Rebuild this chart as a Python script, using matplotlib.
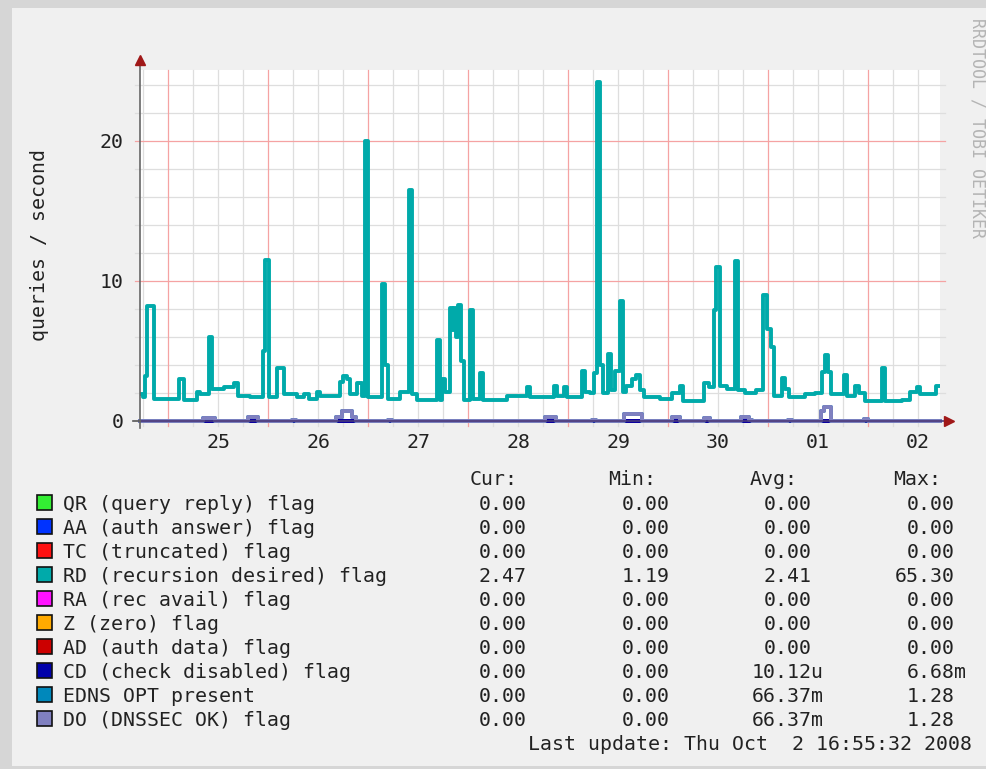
import matplotlib
matplotlib.use('Agg')
import matplotlib.pyplot as plt
from matplotlib.patches import Rectangle
import numpy as np

# --- data (time in days of month, Sep 24 .. Oct 2 continued as 31, 32) ---
rd_time = [24.22, 24.25, 24.27, 24.29, 24.36, 24.61, 24.66, 24.79, 24.82, 24.91,
           24.94, 25.06, 25.16, 25.20, 25.32, 25.45, 25.47, 25.51, 25.59, 25.66,
           25.79, 25.86, 25.91, 25.99, 26.02, 26.22, 26.25, 26.29, 26.32, 26.39,
           26.44, 26.47, 26.50, 26.64, 26.67, 26.70, 26.82, 26.91, 26.94, 26.99,
           27.19, 27.22, 27.24, 27.27, 27.32, 27.34, 27.36, 27.38, 27.40, 27.43,
           27.46, 27.52, 27.55, 27.62, 27.65, 27.89, 28.09, 28.12, 28.36, 28.39,
           28.46, 28.49, 28.64, 28.67, 28.72, 28.76, 28.79, 28.82, 28.85, 28.90,
           28.93, 28.97, 29.02, 29.05, 29.08, 29.14, 29.18, 29.22, 29.26, 29.42,
           29.54, 29.62, 29.65, 29.86, 29.91, 29.96, 29.98, 30.02, 30.09, 30.17,
           30.20, 30.27, 30.38, 30.45, 30.49, 30.53, 30.56, 30.64, 30.67, 30.71,
           30.87, 30.97, 31.04, 31.07, 31.10, 31.13, 31.26, 31.29, 31.37, 31.41,
           31.47, 31.64, 31.67, 31.84, 31.92, 31.99, 32.02, 32.18, 32.22]
rd_value = [1.9, 1.7, 3.2, 8.2, 1.6, 3.0, 1.5, 2.1, 1.9, 6.0,
            2.3, 2.4, 2.7, 1.8, 1.7, 5.0, 11.5, 1.7, 3.8, 1.9,
            1.7, 1.9, 1.6, 2.1, 1.8, 2.8, 3.2, 3.0, 1.9, 2.7,
            1.8, 20.0, 1.7, 9.8, 4.0, 1.6, 2.1, 16.5, 1.9, 1.5,
            5.8, 1.5, 3.0, 2.1, 8.1, 6.5, 8.1, 6.0, 8.3, 4.3,
            1.5, 7.9, 1.6, 3.4, 1.5, 1.8, 2.4, 1.7, 2.5, 1.8,
            2.4, 1.7, 3.6, 2.1, 2.0, 3.4, 24.2, 4.0, 2.0, 4.8,
            2.2, 3.6, 8.6, 2.1, 2.5, 3.0, 3.3, 2.2, 1.7, 1.6,
            2.0, 2.5, 1.4, 2.7, 2.4, 7.9, 11.0, 2.5, 2.3, 11.4,
            2.2, 2.0, 2.2, 9.0, 6.6, 5.3, 1.8, 3.1, 2.3, 1.7,
            1.9, 2.0, 3.5, 4.7, 3.5, 1.9, 3.3, 1.8, 2.5, 2.0,
            1.4, 3.8, 1.4, 1.5, 2.1, 2.4, 1.9, 2.5, 2.5]

do_time = [24.22, 24.85, 24.97, 25.30, 25.40, 25.74, 25.78, 26.18, 26.24, 26.34,
           26.38, 26.70, 26.74, 28.27, 28.38, 28.74, 28.78, 29.06, 29.24, 29.54,
           29.62, 29.86, 29.92, 30.23, 30.31, 30.34, 30.70, 30.74, 31.03, 31.06,
           31.11, 31.13, 31.46, 31.50, 32.22]
do_value = [0.0, 0.2, 0.0, 0.25, 0.0, 0.1, 0.0, 0.3, 0.7, 0.3,
            0.0, 0.1, 0.0, 0.25, 0.0, 0.1, 0.0, 0.5, 0.0, 0.25,
            0.0, 0.2, 0.0, 0.3, 0.1, 0.0, 0.1, 0.0, 0.7, 1.0,
            1.0, 0.0, 0.15, 0.0, 0.0]

zero_time = [24.22, 32.22]
zero_value = [0.0, 0.0]

day_ticks = [25, 26, 27, 28, 29, 30, 31, 32]
day_labels = ['25', '26', '27', '28', '29', '30', '01', '02']
y_ticks = [0, 10, 20]
y_labels = ['0', '10', '20']

flag_labels = ['QR (query reply) flag', 'AA (auth answer) flag', 'TC (truncated) flag',
               'RD (recursion desired) flag', 'RA (rec avail) flag', 'Z (zero) flag',
               'AD (auth data) flag', 'CD (check disabled) flag', 'EDNS OPT present',
               'DO (DNSSEC OK) flag']
flag_colors = ['#33ee33', '#0033ff', '#ff1111', '#00aaaa', '#ff11ff', '#ffaa00',
               '#cc0000', '#0000aa', '#0088bb', '#8080c0']
cur_vals = ['0.00', '0.00', '0.00', '2.47', '0.00', '0.00', '0.00', '0.00', '0.00', '0.00']
min_vals = ['0.00', '0.00', '0.00', '1.19', '0.00', '0.00', '0.00', '0.00', '0.00', '0.00']
avg_vals = ['0.00', '0.00', '0.00', '2.41', '0.00', '0.00', '0.00', '10.12u', '66.37m', '66.37m']
max_vals = ['0.00', '0.00', '0.00', '65.30', '0.00', '0.00', '0.00', '6.68m', '1.28', '1.28']

W, H = 987, 769
plt.rcParams['font.family'] = 'DejaVu Sans Mono'
plt.rcParams['font.size'] = 14.3
TXT = '#222222'
GRID_MINOR = '#dedede'
GRID_MAJOR = '#f5a3a3'

fig = plt.figure(figsize=(W / 100, H / 100), dpi=100)
fig.patch.set_facecolor('#d6d6d6')
fig.patches.append(Rectangle((12 / W, 3 / H), (W - 12) / W, (H - 11) / H,
                             transform=fig.transFigure, facecolor='#f0f0f0',
                             edgecolor='none', zorder=-5))


def fx(x):
    return x / W


def fy(y):
    return 1 - y / H


ax = fig.add_axes([fx(140), fy(421), 800 / W, 351 / H])
ax.set_zorder(2)
ax.set_xlim(24.22, 32.22)
ax.set_ylim(0, 25.07)
ax.set_facecolor('white')
for s in ax.spines.values():
    s.set_visible(False)

# grid: minor every 6 hours / 2 units, major (red) every day / 10 units
for t in np.arange(24.25, 32.22, 0.25):
    major = abs((t - 0.5) - round(t - 0.5)) < 1e-6
    ax.plot([t, t], [-0.36, 25.07], color=GRID_MAJOR if major else GRID_MINOR,
            lw=0.9, zorder=1.5 if major else 1, clip_on=False)
for v in range(2, 26, 2):
    major = v % 10 == 0
    ax.plot([24.17, 32.27], [v, v], color=GRID_MAJOR if major else GRID_MINOR,
            lw=0.9, zorder=1.5 if major else 1, clip_on=False)

# series
for lab, col in zip(flag_labels, flag_colors):
    if lab.startswith('RD'):
        ax.plot(rd_time, rd_value, drawstyle='steps-post', color=col, lw=2.8,
                zorder=3, solid_joinstyle='round')
    elif lab.startswith('DO') or lab.startswith('EDNS'):
        ax.plot(do_time, do_value, drawstyle='steps-post', color=col, lw=2.8,
                zorder=4.5, clip_on=False, solid_joinstyle='round')
    else:
        ax.plot(zero_time, zero_value, color=col, lw=2.8, zorder=4, clip_on=False)

# axes lines and arrows
ax.plot([24.22, 32.28], [0, 0], color='#4a3a7a', lw=1.2, zorder=5, clip_on=False)
ax.plot([24.15, 24.22], [0, 0], color='#555555', lw=1.2, zorder=5, clip_on=False)
ax.plot([24.22, 24.22], [-0.5, 25.5], color='#666666', lw=1.2, zorder=5, clip_on=False)
ax.plot([24.22], [25.75], marker='^', ms=7.5, color='#a01818', mec='#a01818',
        zorder=6, clip_on=False)
ax.plot([32.31], [0], marker='>', ms=7.5, color='#a01818', mec='#a01818',
        zorder=6, clip_on=False)

ax.set_xticks(day_ticks, day_labels)
ax.set_yticks(y_ticks, y_labels)
ax.tick_params(length=0, colors=TXT, labelsize=14.3)
ax.tick_params(axis='x', pad=9)
ax.tick_params(axis='y', pad=12)

fig.text(fx(40), fy(245), 'queries / second', rotation=90, ha='center', va='center',
         color=TXT)
fig.text(fx(978), fy(128), 'RRDTOOL / TOBI OETIKER', rotation=270, ha='center',
         va='center', color='#b4b4b4', fontsize=12)

# legend
for hx, h in zip([470, 608, 750, 893], ['Cur:', 'Min:', 'Avg:', 'Max:']):
    fig.text(fx(hx), fy(485), h, ha='left', va='baseline', color=TXT)

CW = 12.0
for i, (lab, col) in enumerate(zip(flag_labels, flag_colors)):
    base = 510 + 24 * i
    fig.patches.append(Rectangle((fx(37), fy(base)), 15 / W, 15 / H,
                                 transform=fig.transFigure, facecolor=col,
                                 edgecolor='#111111', lw=1.2, zorder=3))
    fig.text(fx(63), fy(base), lab, ha='left', va='baseline', color=TXT)
    for rx, val in zip([527, 670, 812, 955],
                       [cur_vals[i], min_vals[i], avg_vals[i], max_vals[i]]):
        num = val[:-1] if val[-1] in 'um' else val
        fig.text(fx(rx - CW * len(num)), fy(base), val, ha='left', va='baseline',
                 color=TXT)

fig.text(fx(972), fy(750), 'Last update: Thu Oct  2 16:55:32 2008', ha='right',
         va='baseline', color=TXT)

fig.savefig('out.png', dpi=100, facecolor=fig.get_facecolor())
